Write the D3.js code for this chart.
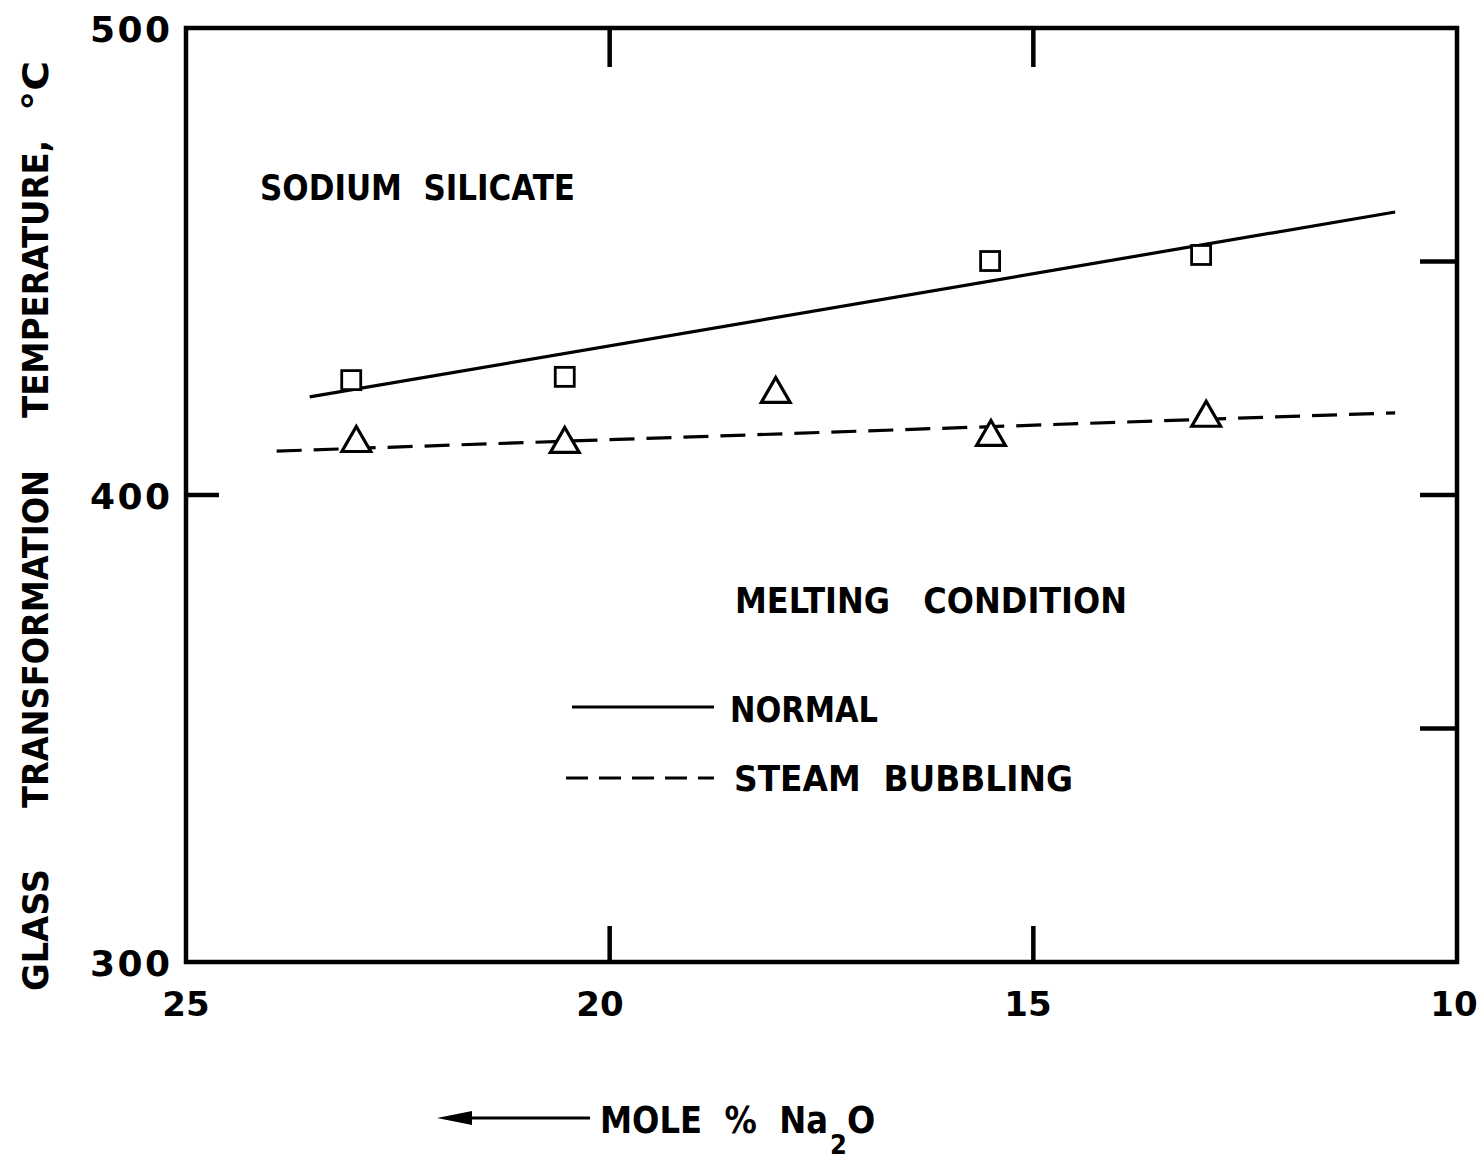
<!DOCTYPE html>
<html>
<head>
<meta charset="utf-8">
<script src="https://cdn.jsdelivr.net/npm/d3@7"></script>
<style>
  html, body { margin: 0; padding: 0; background: #fff; }
  svg text { font-family: "DejaVu Sans Condensed", "DejaVu Sans", sans-serif; font-weight: bold; fill: #000; white-space: pre; }
</style>
</head>
<body>
<svg id="chart" width="1479" height="1159"></svg>
<script>
// Glass transformation temperature of sodium silicate vs. mole % Na2O
const xTicks = [25, 20, 15, 10];
const yTicks = [300, 400, 500];
const yMinorTicks = [350, 400, 450];

// Normal melting (squares)
const normalX = [23.05, 20.53, 15.51, 13.02];
const normalY = [424.6, 425.3, 450.1, 451.4];
// Steam bubbling (triangles)
const steamX = [22.99, 20.53, 18.04, 15.50, 12.96];
const steamY = [411.1, 410.9, 421.6, 412.4, 416.5];

// Fitted trend lines (endpoints)
const normalFitX = [23.54, 10.73];
const normalFitY = [421.0, 460.6];
const steamFitX = [23.93, 10.73];
const steamFitY = [409.4, 417.6];

const svg = d3.select("#chart");
const frame = { left: 186, right: 1457, top: 28, bottom: 962 };

const x = d3.scaleLinear().domain([25, 10]).range([frame.left, frame.right]);
const y = d3.scaleLinear().domain([300, 500]).range([frame.bottom, frame.top]);

// Frame
svg.append("rect")
  .attr("x", frame.left).attr("y", frame.top)
  .attr("width", frame.right - frame.left).attr("height", frame.bottom - frame.top)
  .attr("fill", "none").attr("stroke", "#000").attr("stroke-width", 4.5);

// Inner ticks: top and bottom at 20 and 15
const innerX = [20, 15];
svg.append("g").selectAll("line").data(innerX).join("line")
  .attr("x1", d => x(d)).attr("x2", d => x(d))
  .attr("y1", frame.top).attr("y2", frame.top + 39)
  .attr("stroke", "#000").attr("stroke-width", 4.5);
svg.append("g").selectAll("line").data(innerX).join("line")
  .attr("x1", d => x(d)).attr("x2", d => x(d))
  .attr("y1", frame.bottom).attr("y2", frame.bottom - 36)
  .attr("stroke", "#000").attr("stroke-width", 4.5);
// Right side ticks
svg.append("g").selectAll("line").data(yMinorTicks).join("line")
  .attr("x1", frame.right).attr("x2", frame.right - 37)
  .attr("y1", d => y(d)).attr("y2", d => y(d))
  .attr("stroke", "#000").attr("stroke-width", 4.5);
// Left side tick at 400
svg.append("line")
  .attr("x1", frame.left).attr("x2", frame.left + 33)
  .attr("y1", y(400)).attr("y2", y(400))
  .attr("stroke", "#000").attr("stroke-width", 4.5);

// Tick labels
svg.append("g").selectAll("text").data(yTicks).join("text")
  .attr("x", 170).attr("y", d => y(d) + 14)
  .attr("text-anchor", "end")
  .attr("textLength", 80).attr("lengthAdjust", "spacing")
  .style("font-family", "'DejaVu Sans', sans-serif")
  .style("font-size", "36px")
  .text(d => d);
const xLabelPos = { 25: 186, 20: 600, 15: 1028, 10: 1454 };
svg.append("g").selectAll("text").data(xTicks).join("text")
  .attr("x", d => xLabelPos[d] ?? x(d)).attr("y", 1016)
  .attr("text-anchor", "middle")
  .style("font-family", "'DejaVu Sans', sans-serif")
  .style("font-size", "34px")
  .text(d => d);

// Y axis title, word by word
const yTitle = [
  { t: "GLASS", c: 930, w: 122 },
  { t: "TRANSFORMATION", c: 639, w: 338 },
  { t: "TEMPERATURE,", c: 279, w: 278 },
  { t: "°C", c: 86, w: 50 }
];
svg.append("g").selectAll("text").data(yTitle).join("text")
  .attr("transform", d => `translate(48,${d.c}) rotate(-90)`)
  .attr("text-anchor", "middle")
  .attr("textLength", d => d.w).attr("lengthAdjust", "spacingAndGlyphs")
  .style("font-size", "36px")
  .text(d => d.t);

// Trend lines
const line = d3.line().x(d => x(d[0])).y(d => y(d[1]));
svg.append("path")
  .datum(d3.zip(normalFitX, normalFitY))
  .attr("d", line).attr("fill", "none")
  .attr("stroke", "#000").attr("stroke-width", 3.2);
svg.append("path")
  .datum(d3.zip(steamFitX, steamFitY))
  .attr("d", line).attr("fill", "none")
  .attr("stroke", "#000").attr("stroke-width", 3.2)
  .attr("stroke-dasharray", "25,12");

// Squares
const sq = 19;
svg.append("g").selectAll("rect").data(d3.zip(normalX, normalY)).join("rect")
  .attr("x", d => x(d[0]) - sq / 2).attr("y", d => y(d[1]) - sq / 2)
  .attr("width", sq).attr("height", sq)
  .attr("fill", "#fff").attr("stroke", "#000").attr("stroke-width", 2.8);

// Triangles
const tri = d3.symbol().type(d3.symbolTriangle).size(360);
svg.append("g").selectAll("path").data(d3.zip(steamX, steamY)).join("path")
  .attr("transform", d => `translate(${x(d[0])},${y(d[1])})`)
  .attr("d", tri)
  .attr("fill", "#fff").attr("stroke", "#000").attr("stroke-width", 3.2);

// Annotations
svg.append("text").attr("x", 260).attr("y", 200)
  .attr("textLength", 315).attr("lengthAdjust", "spacingAndGlyphs")
  .style("font-size", "36px").text("SODIUM  SILICATE");
svg.append("text").attr("x", 735).attr("y", 613)
  .attr("textLength", 392).attr("lengthAdjust", "spacingAndGlyphs")
  .style("font-size", "36px").text("MELTING   CONDITION");

// Legend
svg.append("line").attr("x1", 572).attr("x2", 714).attr("y1", 707).attr("y2", 707)
  .attr("stroke", "#000").attr("stroke-width", 3);
svg.append("line").attr("x1", 566).attr("x2", 714).attr("y1", 778).attr("y2", 778)
  .attr("stroke", "#000").attr("stroke-width", 3).attr("stroke-dasharray", "22,11");
svg.append("text").attr("x", 730).attr("y", 722)
  .attr("textLength", 148).attr("lengthAdjust", "spacingAndGlyphs")
  .style("font-size", "36px").text("NORMAL");
svg.append("text").attr("x", 734).attr("y", 791)
  .attr("textLength", 339).attr("lengthAdjust", "spacingAndGlyphs")
  .style("font-size", "36px").text("STEAM  BUBBLING");

// X axis title with arrow
svg.append("line").attr("x1", 465).attr("x2", 590).attr("y1", 1118).attr("y2", 1118)
  .attr("stroke", "#000").attr("stroke-width", 3);
svg.append("path").attr("d", "M437,1118 L472,1111 L472,1125 Z").attr("fill", "#000");
const xt = svg.append("text").attr("y", 1133).style("font-size", "37px");
xt.append("tspan").attr("x", 600).text("MOLE  %  Na")
  .attr("textLength", 228).attr("lengthAdjust", "spacingAndGlyphs");
xt.append("tspan").attr("x", 830).attr("y", 1154).style("font-size", "27px").text("2");
xt.append("tspan").attr("x", 847).attr("y", 1133).text("O");
</script>
</body>
</html>
